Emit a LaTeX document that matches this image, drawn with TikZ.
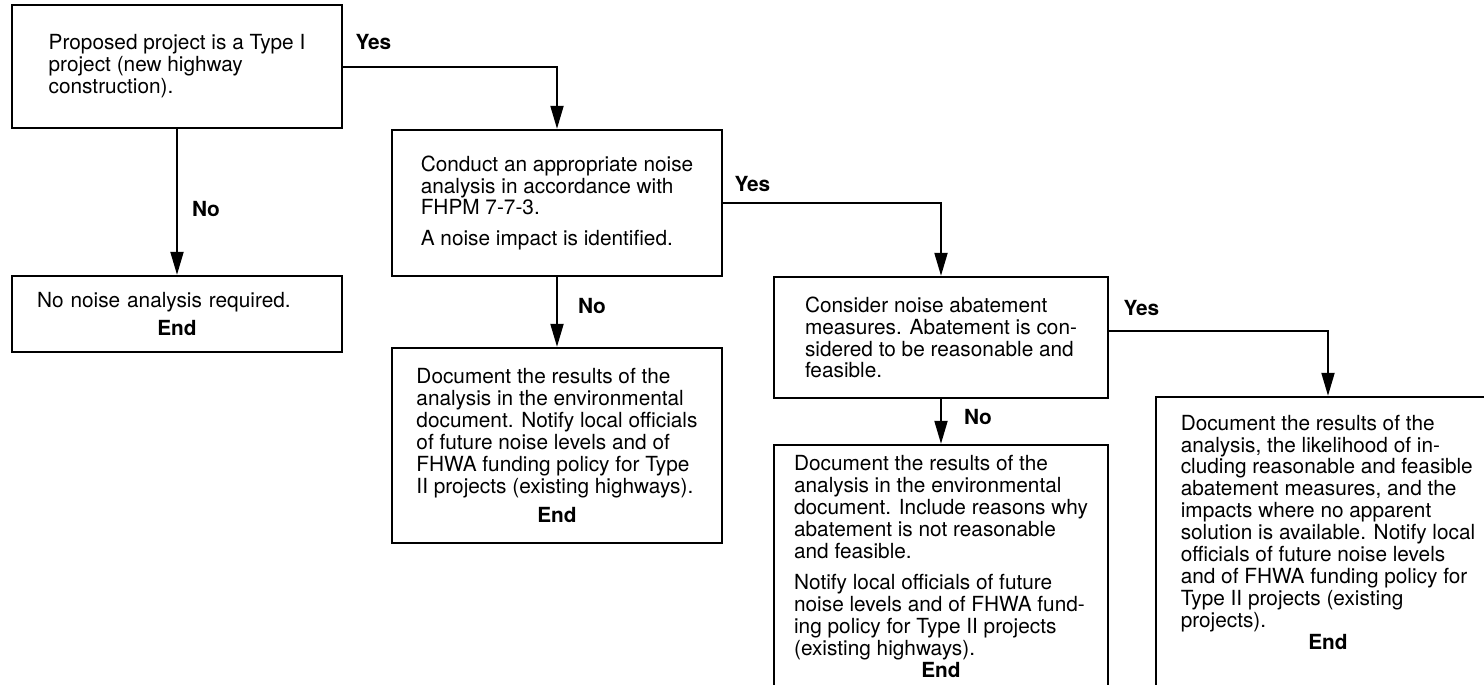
\documentclass[tikz,border=0pt]{standalone}
\usepackage{fontspec}
\setmainfont{TeX Gyre Heros}
\usetikzlibrary{arrows.meta,positioning}
\newcommand{\boxend}{\hspace*{\fill}\textbf{End}\hspace*{\fill}}

\begin{document}
\begin{tikzpicture}[x=0.5pt,y=-0.5pt]
\tikzstyle{every node}=[font=\fontsize{10.4}{10.95}\selectfont]
\tikzstyle{box}=[draw,line width=1.2pt,rectangle,align=left,inner sep=0pt]
\tikzstyle{lbl}=[font=\fontsize{10.4}{10.95}\selectfont\bfseries,inner sep=0pt]
\tikzstyle{link}=[line width=1pt,-{Triangle[length=11.5pt,width=6.5pt]}]
\useasboundingbox (0,0) rectangle (1484,685);
\clip (0,0) rectangle (1484,685);
% decision boxes
\node[box,minimum width=165pt,minimum height=61.5pt] (type1) at (177,66.5)
  {Proposed project is a Type I\\ project (new highway\\ construction).};
\node[box,minimum width=165pt,minimum height=38pt,text width=140pt] (nonoise) at (177,314)
  {No noise analysis required.\par\vspace{3pt}\hbox to\hsize{\hfil\textbf{End}\hfil}};
\node[box,minimum width=165pt,minimum height=73pt] (analysis) at (557,203)
  {Conduct an appropriate noise\\ analysis in accordance with\\ FHPM 7-7-3.\\[4.5pt] A noise impact is identified.};
\node[box,minimum width=165pt,minimum height=97.5pt] (notify1) at (557,445.5)
  {Document the results of the\\ analysis in the environmental\\ document. Notify local officials\\ of future noise levels and of\\ FHWA funding policy for Type\\ II projects (existing highways).\\[3.5pt] \boxend};
\node[box,minimum width=167pt,minimum height=60.5pt] (abate) at (941,337.5)
  {Consider noise abatement\\ measures. Abatement is con-\\ sidered to be reasonable and\\ feasible.};
\node[box,minimum width=167pt,minimum height=121.5pt] (noabate) at (941,566.5)
  {Document the results of the\\ analysis in the environmental\\ document. Include reasons why\\ abatement is not reasonable\\ and feasible.\\[4.5pt] Notify local officials of future\\ noise levels and of FHWA fund-\\ ing policy for Type II projects\\ (existing highways).\\ \boxend};
\node[box,minimum width=172pt,minimum height=145.5pt,text depth=10.5pt] (yesabate) at (1328,542.5)
  {Document the results of the\\ analysis, the likelihood of in-\\ cluding reasonable and feasible\\ abatement measures, and the\\ impacts where no apparent\\ solution is available. Notify local\\ officials of future noise levels\\ and of FHWA funding policy for\\ Type II projects (existing\\ projects).\\ \boxend};
% yes branches
\draw[link] (type1.east) -| (analysis.north);
\node[lbl,anchor=west] (yes1) at ([xshift=6pt,yshift=12pt]type1.east) {Yes};
\draw[link] (analysis.east) -| (abate.north);
\node[lbl,anchor=west] (yes2) at ([xshift=5.5pt,yshift=9.5pt]analysis.east) {Yes};
\draw[link] ([yshift=3.5pt]abate.east) -| (yesabate.north);
\node[lbl,anchor=west] (yes3) at ([xshift=7pt,yshift=14.5pt]abate.east) {Yes};
% no branches
\draw[link] (type1) -- node[lbl,pos=0.55,right=7pt] (no1) {No} (nonoise);
\draw[link] (analysis) -- node[lbl,pos=0.42,right=10pt] (no2) {No} (notify1);
\draw[link] (abate) -- node[lbl,pos=0.4,right=11pt] (no3) {No} (noabate);
\end{tikzpicture}
\end{document}
